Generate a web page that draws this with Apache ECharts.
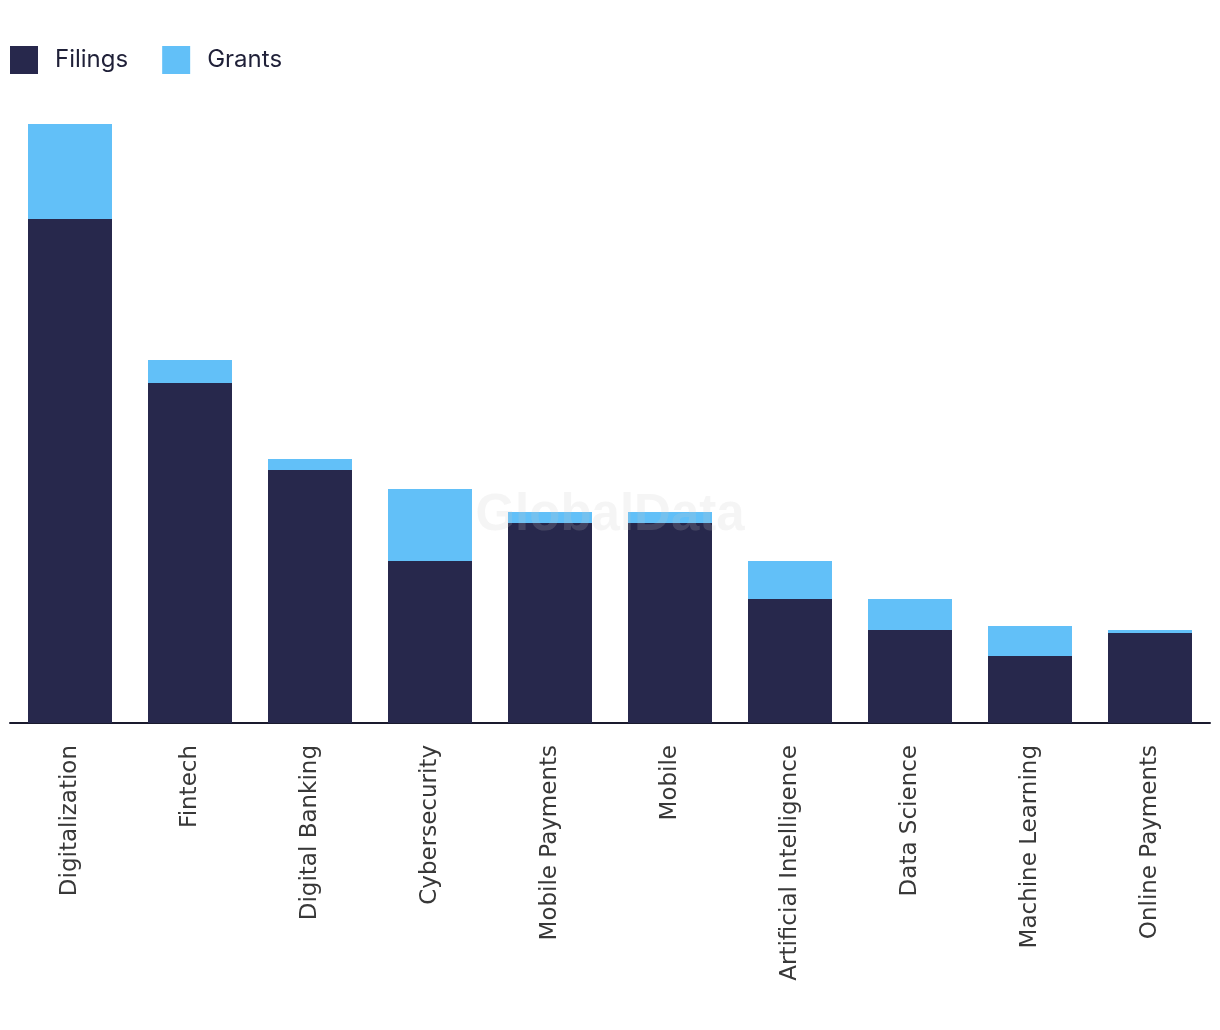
<!DOCTYPE html>
<html><head><meta charset="utf-8">
<script src="https://cdn.jsdelivr.net/npm/echarts@6/dist/echarts.min.js"></script>
<style>html,body{margin:0;padding:0;background:#fff}#c{width:1220px;height:1030px}</style>
</head><body><div id="c"></div>
<script>
const categories = ["Digitalization","Fintech","Digital Banking","Cybersecurity","Mobile Payments","Mobile","Artificial Intelligence","Data Science","Machine Learning","Online Payments"];
const filings = [504,340,253,162,200,200,124,93,67,90];
const grants = [95,23,11,72,11,11,38,31,30,3];

const chart = echarts.init(document.getElementById('c'));
chart.setOption({
  animation:false,
  legend:{left:10,top:46,padding:0,itemWidth:28,itemHeight:28,itemGap:34,icon:'rect',
    textStyle:{fontFamily:'Inter',fontSize:24,color:'#1f2038',padding:[0,0,0,12]},
    data:['Filings','Grants']},
  grid:{left:10,right:10,top:123,bottom:307},
  xAxis:{type:'category',data:categories,
    axisLine:{lineStyle:{color:'#1a1a2e',width:2}},axisTick:{show:false},
    axisLabel:{rotate:90,margin:22,fontFamily:'DejaVu Sans',fontSize:23,color:'#383838',interval:0}},
  yAxis:{type:'value',min:0,max:600,show:false,splitLine:{show:false}},
  graphic:[{type:'text',left:'center',top:490,z:100,
    style:{text:'GlobalData',fontFamily:'Liberation Sans',fontWeight:'bold',fontSize:51,fill:'rgba(200,200,200,0.18)'}}],
  series:[
    {name:'Filings',type:'bar',stack:'a',data:filings,barWidth:'70%',itemStyle:{color:'#27284c'}},
    {name:'Grants',type:'bar',stack:'a',data:grants,barWidth:'70%',itemStyle:{color:'#62c0f8'}}
  ]
});
</script></body></html>
